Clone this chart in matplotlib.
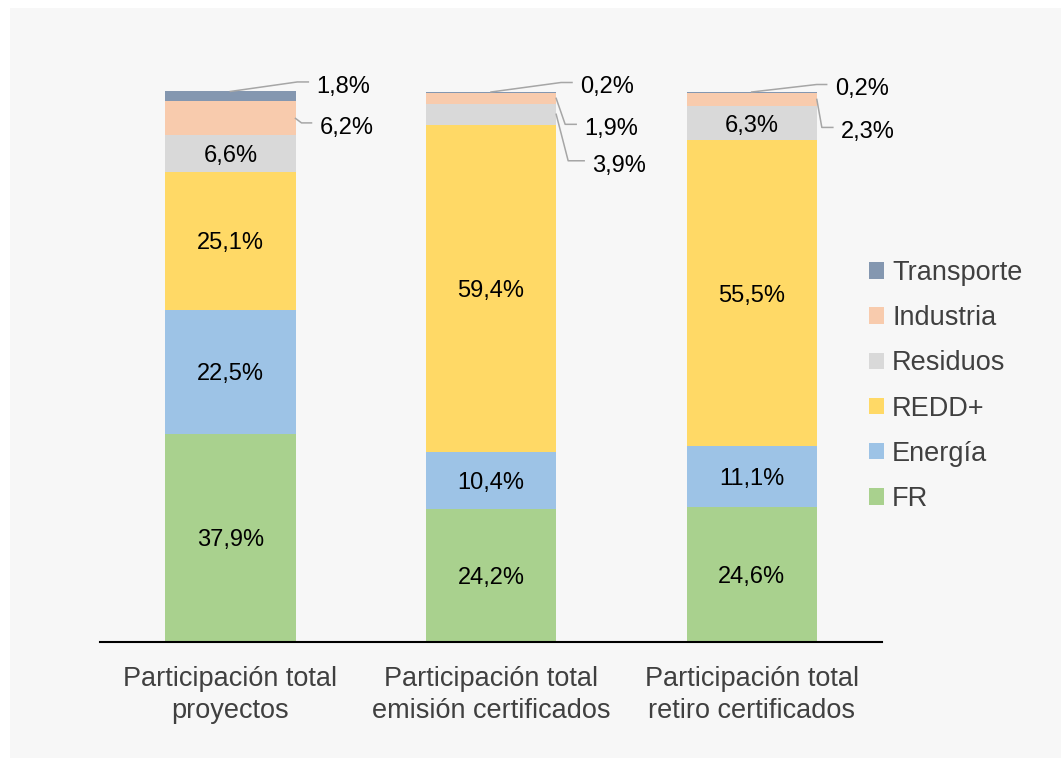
import matplotlib.pyplot as plt
from matplotlib.patches import Rectangle
from matplotlib.transforms import IdentityTransform

plt.rcParams['font.family'] = ['Liberation Sans', 'DejaVu Sans']

# data (percentages per sector)
categories = ['Participación total\nproyectos',
              'Participación total\nemisión certificados',
              'Participación total\nretiro certificados']
sectors = ['FR', 'Energía', 'REDD+', 'Residuos', 'Industria', 'Transporte']
fr = [37.9, 24.2, 24.6]
energia = [22.5, 10.4, 11.1]
redd = [25.1, 59.4, 55.5]
residuos = [6.6, 3.9, 6.3]
industria = [6.2, 1.9, 2.3]
transporte = [1.8, 0.2, 0.2]
values = [fr, energia, redd, residuos, industria, transporte]
colors = ['#a9d18e', '#9dc3e6', '#ffd966', '#d9d9d9', '#f8cbad', '#8497b0']

# labels that sit outside the bar with a leader line:
# (bar, sector) -> (anchor, elbow dx, elbow dy, horizontal length) in pixels
outside = {
  (0, 'Transporte'): ('top', 67, 9.5, 11),
  (0, 'Industria'): ('side', 6, -4.5, 10),
  (1, 'Transporte'): ('top', 70, 9.5, 11),
  (1, 'Industria'): ('side', 9, -26, 11),
  (1, 'Residuos'): ('side', 12, -46.5, 16),
  (2, 'Transporte'): ('top', 65, 7.5, 10),
  (2, 'Industria'): ('side', 5, -28, 11),
}

def fmt(v):
  return ('%.1f' % v).replace('.', ',') + '%'

W, H = 1063, 758
fig = plt.figure(figsize=(W / 100, H / 100), dpi=100)
fig.patch.set_facecolor('white')
fig.patches.append(Rectangle((10 / W, 0), 1051 / W, 750 / H,
                             transform=fig.transFigure, facecolor='#f7f7f7',
                             edgecolor='none', zorder=-10))

ax = fig.add_axes([100 / W, 1 - 642 / H, 782 / W, 550 / H])
ax.patch.set_visible(False)
ax.set_xlim(-0.5, 2.5)
ax.set_ylim(0, 100)

x = list(range(len(categories)))
width = 0.5
bottoms = [0.0] * len(x)
for name, vals, color in zip(sectors, values, colors):
  ax.bar(x, vals, width=width, bottom=bottoms, color=color, label=name,
         clip_on=False, zorder=2)
  for i, v in enumerate(vals):
    mid = bottoms[i] + v / 2
    if (i, name) in outside:
      where, ex, ey, hl = outside[(i, name)]
      if where == 'top':
        ax0, ay0 = ax.transData.transform((x[i], bottoms[i] + v))
      else:
        ax0, ay0 = ax.transData.transform((x[i] + width / 2, mid))
      xs = [ax0, ax0 + ex, ax0 + ex + hl]
      ys = [ay0, ay0 + ey, ay0 + ey]
      ax.add_line(plt.Line2D(xs, ys, transform=IdentityTransform(),
                             color='#a6a6a6', lw=1.1, zorder=3, clip_on=False))
      fig.text(xs[-1] + 8, ys[-1] - 11, fmt(v), transform=IdentityTransform(),
               ha='left', va='baseline', fontsize=17, color='black')
    else:
      ax.annotate(fmt(v), xy=(x[i], mid), xytext=(0, -8.5),
                  textcoords='offset pixels', ha='center', va='baseline',
                  fontsize=17, color='black', zorder=4)
    bottoms[i] += v

# axes styling
for side in ['top', 'right', 'left']:
  ax.spines[side].set_visible(False)
ax.spines['bottom'].set_linewidth(1.5)
ax.spines['bottom'].set_color('black')
ax.set_yticks([])
ax.set_xticks(x)
ax.set_xticklabels(categories, fontsize=19.5, color='#404040', linespacing=1.3)
ax.tick_params(axis='x', length=0, pad=17)

# legend, top entry first
h, l = ax.get_legend_handles_labels()
ax.legend(h[::-1], l[::-1], loc='upper left',
          bbox_to_anchor=(869 / W, 1 - 260 / H), bbox_transform=fig.transFigure,
          frameon=False, fontsize=19.5, handlelength=0.55, handleheight=0.55,
          handletextpad=0.3, labelspacing=0.71, borderpad=0, borderaxespad=0,
          labelcolor='#404040')

plt.savefig('out.png', dpi=100)
plt.close()
